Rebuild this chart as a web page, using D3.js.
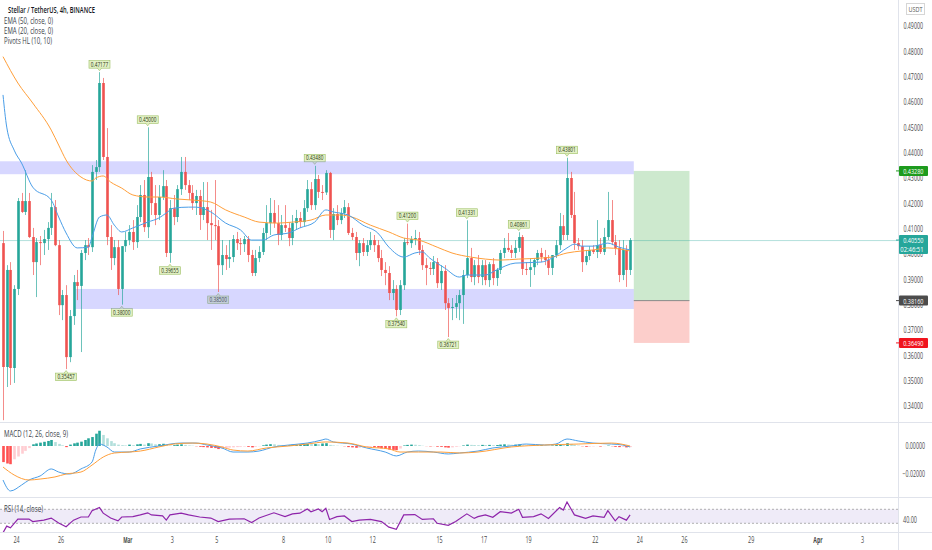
<!DOCTYPE html>
<html>
<head>
<meta charset="utf-8">
<script src="https://cdn.jsdelivr.net/npm/d3@7"></script>
<style>
  body { margin: 0; background: #fff; }
  svg { display: block; }
  text { font-family: "Open Sans", "Noto Sans", sans-serif; }
</style>
</head>
<body>
<svg width="932" height="550"></svg>
<script>
// 4h candles, first one opens Feb 23 10:00, 170 candles
var opens = [.4043,.3554,.3937,.3550,.3862,.4209,.4166,.4209,.4067,.3968,.4047,.4043,.4059,.4103,.4185,.4035,.3798,.3838,.3593,.3755,
  .3889,.3874,.4004,.4035,.4027,.4324,.4343,.4675,.4383,.4067,.3984,.4027,.3862,.4031,.4055,.4087,.4047,.4146,.4233,.4106,
  .4304,.4201,.4154,.4225,.4268,.4004,.4181,.4146,.4256,.4324,.4272,.4241,.4201,.4229,.4154,.4185,.4122,.4114,.4110,.3956,
  .3996,.3980,.3988,.4059,.4043,.4039,.4059,.3996,.3925,.3984,.4008,.4083,.4122,.4162,.4122,.4075,.4114,.4103,.4063,.4122,
  .4142,.4126,.4181,.4256,.4193,.4296,.4245,.4243,.4320,.4095,.4158,.4134,.4162,.4185,.4083,.4067,.4004,.4043,.4008,.4035,
  .4055,.4035,.3984,.3937,.3925,.3846,.3862,.3779,.3877,.4047,.4043,.4059,.4063,.4016,.3956,.3945,.3941,.3968,.3885,.3933,
  .3806,.3787,.3791,.3806,.3838,.3917,.3984,.3909,.3956,.3909,.3956,.3897,.3960,.3905,.3937,.4004,.4024,.4016,.4004,.4024,
  .4067,.3941,.3937,.3948,.3976,.4004,.3988,.3976,.3945,.3996,.4035,.4110,.4075,.4300,.4154,.4043,.4031,.3968,.3992,.4016,
  .4008,.4035,.4008,.4067,.4134,.4047,.4024,.3917,.4016,.3937];
var highs = [.4091,.3956,.3968,.3877,.4221,.4241,.4331,.4241,.4103,.4063,.4071,.4095,.4126,.4241,.4213,.4055,.3858,.3877,.3779,.3917,
  .3937,.4016,.4055,.4063,.4351,.4371,.47177,.4695,.4497,.4114,.4055,.4055,.4031,.4087,.4114,.4134,.4193,.4272,.4292,.4500,
  .4324,.4272,.4272,.4331,.4292,.4213,.4233,.4272,.4383,.4383,.4292,.4272,.4253,.4253,.4284,.4284,.4174,.4292,.4134,.4055,
  .4035,.4055,.4075,.4087,.4063,.4071,.4071,.4016,.4016,.4031,.4103,.4193,.4221,.4213,.4193,.4154,.4193,.4126,.4154,.4174,
  .4166,.4213,.4292,.4284,.4348,.4312,.4272,.4331,.4324,.4181,.4193,.4181,.4213,.4201,.4103,.4087,.4055,.4063,.4055,.4087,
  .4075,.4055,.4016,.3968,.3952,.3897,.3877,.3897,.4063,.4120,.4071,.4095,.4087,.4035,.3984,.3968,.3992,.3984,.3956,.3956,
  .3826,.3826,.3838,.3858,.3937,.41331,.4024,.3976,.3996,.3976,.3976,.3968,.3984,.3945,.4016,.4063,.4083,.4035,.4055,.40861,
  .4075,.3968,.3984,.3984,.4016,.4024,.4016,.3996,.3996,.4055,.4162,.4154,.43801,.4324,.4245,.4063,.4055,.4016,.4031,.4035,
  .4134,.4063,.4103,.4245,.4213,.4075,.4055,.4055,.4035,.4063];
var lows = [.3344,.3475,.3483,.3491,.3838,.4162,.4154,.4063,.3917,.3830,.3956,.3996,.4016,.4075,.4031,.3759,.3739,.35457,.3573,.3720,
  .3818,.3613,.3976,.3996,.4008,.4292,.4324,.4371,.4035,.3937,.3956,.3838,.3800,.4008,.4035,.4016,.4024,.4126,.4087,.4063,
  .4154,.4114,.4134,.4213,.3988,.39655,.4114,.4126,.4233,.4253,.4213,.4174,.4154,.4095,.4134,.4055,.4016,.4055,.3850,.3917,
  .3937,.3945,.3968,.4016,.3996,.4008,.3968,.3913,.3913,.3968,.3996,.4055,.4075,.4103,.4035,.4055,.4087,.4031,.4035,.4095,
  .4103,.4110,.4166,.4174,.4174,.4221,.4213,.4233,.4063,.4055,.4114,.4118,.4142,.4075,.4055,.3976,.3952,.3992,.3992,.4016,
  .4008,.3968,.3913,.3877,.3818,.3818,.3754,.3759,.3858,.4035,.4024,.4035,.3996,.3937,.3877,.3917,.3917,.3866,.3858,.3779,
  .36721,.3739,.3747,.3739,.3724,.3905,.3889,.3877,.3885,.3877,.3877,.3870,.3877,.3874,.3921,.3984,.4008,.3984,.3984,.4008,
  .3917,.3917,.3870,.3917,.3956,.3968,.3956,.3917,.3917,.3984,.4016,.4055,.4055,.4142,.4016,.4016,.3929,.3956,.3976,.4000,
  .3984,.4000,.3996,.4055,.4035,.3996,.3889,.3897,.3870,.3917];
var closes = [.3554,.3937,.3550,.3862,.4209,.4166,.4209,.4067,.3968,.4047,.4043,.4059,.4103,.4185,.4035,.3798,.3838,.3593,.3755,.3889,
  .3874,.4004,.4035,.4027,.4324,.4343,.4675,.4383,.4067,.3984,.4027,.3862,.4031,.4055,.4087,.4047,.4146,.4233,.4106,.4304,
  .4201,.4154,.4225,.4268,.4004,.4181,.4146,.4256,.4324,.4272,.4241,.4201,.4229,.4154,.4185,.4122,.4114,.4110,.3956,.3996,
  .3980,.3988,.4059,.4043,.4039,.4059,.3996,.3925,.3984,.4008,.4083,.4122,.4162,.4122,.4075,.4114,.4103,.4063,.4122,.4142,
  .4126,.4181,.4256,.4193,.4296,.4245,.4243,.4320,.4095,.4158,.4134,.4162,.4185,.4083,.4067,.4004,.4043,.4008,.4035,.4055,
  .4035,.3984,.3937,.3925,.3846,.3862,.3779,.3877,.4047,.4043,.4059,.4063,.4016,.3956,.3945,.3941,.3968,.3885,.3933,.3806,
  .3787,.3791,.3806,.3838,.3917,.3984,.3909,.3956,.3909,.3956,.3897,.3960,.3905,.3937,.4004,.4024,.4016,.4004,.4024,.4067,
  .3941,.3937,.3948,.3976,.4004,.3988,.3976,.3945,.3996,.4035,.4110,.4075,.4300,.4154,.4043,.4031,.3968,.3992,.4016,.4008,
  .4035,.4008,.4067,.4134,.4047,.4024,.3917,.4016,.3937,.4055];

// EMA lines (candle index, value)
var ema50Idx = [0,4,8,13,15,17,21,24,25,27,29,32,35,39,42,47,51,56,60,65,69,74,78,83,87,91,94,99,104,108,112,117,121,126,130,134,139,145,148,152,156,159,163,166,169];
var ema50Val = [.4779,.4675,.4596,.4489,.4430,.4371,.4304,.4288,.4300,.4308,.4284,.4260,.4233,.4225,.4225,.4217,.4213,.4205,.4174,.4146,.4126,.4122,.4126,.4134,.4154,.4154,.4146,.4114,.4087,.4063,.4055,.4027,.4004,.3988,.3980,.3976,.3980,.3984,.3988,.4004,.4012,.4016,.4024,.4020,.4012];
var ema20Idx = [0,1,3,5,8,13,15,17,20,23,24,26,28,30,32,35,39,42,44,46,50,52,56,60,64,67,70,73,77,80,84,87,89,93,97,101,104,108,111,113,115,119,123,125,130,133,138,145,148,152,154,156,159,163,166,169];
var ema20Val = [.4628,.4501,.4410,.4359,.4264,.4213,.4146,.4083,.4024,.4027,.4067,.4146,.4154,.4114,.4087,.4103,.4126,.4142,.4162,.4181,.4185,.4185,.4166,.4122,.4095,.4055,.4055,.4075,.4083,.4103,.4126,.4174,.4166,.4154,.4114,.4083,.4027,.3988,.4004,.4008,.3984,.3945,.3909,.3917,.3917,.3937,.3964,.3968,.3984,.4024,.4039,.4031,.4031,.4043,.4027,.4016];

// pivots
var pivotHighIdx = [26,39,84,109,125,139,152];
var pivotHighVal = [0.47177,0.45000,0.43480,0.41200,0.41331,0.40861,0.43801];
var pivotLowIdx = [17,32,45,58,106,120];
var pivotLowVal = [0.35457,0.38000,0.39655,0.38500,0.37540,0.36721];

// MACD (12, 26, close, 9)
var macdHist = [-0.0115,-0.0125,-0.0130,-0.0095,-0.0075,-0.0055,-0.0035,-0.0015,0.0012,0.0018,
  0.0024,0.0030,0.0036,0.0043,0.0028,0.0015,0.0005,-0.0008,0.0010,0.0019,
  0.0024,0.0031,0.0043,0.0055,0.0064,0.0088,0.0109,0.0079,0.0055,0.0035,
  0.0020,0.0010,0.0006,0.0004,0.0010,0.0006,0.0012,0.0015,0.0010,0.0020,
  0.0018,0.0012,0.0013,0.0016,0.0008,0.0004,0.0006,0.0010,0.0012,0.0008,
  0.0004,0.0002,-0.0002,-0.0006,-0.0008,-0.0010,-0.0014,-0.0015,-0.0022,-0.0020,
  -0.0016,-0.0012,-0.0010,-0.0008,-0.0006,-0.0004,-0.0006,-0.0010,-0.0006,-0.0002,
  0.0005,0.0010,0.0013,0.0012,0.0008,0.0006,0.0005,0.0006,0.0009,0.0010,
  0.0012,0.0013,0.0016,0.0014,0.0015,0.0013,0.0018,0.0020,0.0008,0.0004,
  0.0002,0.0001,-0.0002,-0.0008,-0.0010,-0.0013,-0.0012,-0.0010,-0.0008,-0.0006,
  -0.0008,-0.0012,-0.0016,-0.0020,-0.0026,-0.0028,-0.0030,-0.0018,0.0004,0.0008,
  0.0010,0.0009,0.0006,0.0002,-0.0001,-0.0003,-0.0002,-0.0005,-0.0006,-0.0010,
  -0.0012,-0.0010,-0.0006,-0.0002,0.0004,0.0010,0.0008,0.0007,0.0006,0.0008,
  0.0007,0.0008,0.0006,0.0007,0.0010,0.0012,0.0011,0.0009,0.0010,0.0012,
  0.0005,0.0002,0.0001,0.0002,0.0004,0.0005,0.0003,0.0002,0.0004,0.0007,
  0.0012,0.0010,0.0020,0.0015,0.0008,0.0003,-0.0002,-0.0006,-0.0005,-0.0003,
  -0.0001,-0.0004,-0.0001,0.0003,-0.0002,-0.0006,-0.0008,-0.0007,-0.0010,-0.0008];
var macdIdx = [0,2,5,7,10,13,15,18,21,24,25,26,28,30,34,37,42,48,52,55,59,62,66,69,73,77,82,86,87,89,94,98,103,106,109,112,116,120,123,128,132,137,141,146,149,152,155,159,164,167,169];
var macdVal = [-.0243,-.0321,-.0279,-.0243,-.0214,-.0164,-.0186,-.0200,-.0164,-.0114,-.0029,.0014,-.0007,-.0043,-.0043,-.0021,0,.0021,.0021,.0007,-.0014,-.0043,-.0043,-.0036,-.0007,.0007,.0021,.0043,.0050,.0029,.0014,-.0014,-.0043,-.0071,-.0043,-.0036,-.0043,-.0057,-.0050,-.0036,-.0014,0,.0014,.0007,.0014,.0050,.0036,.0021,.0014,.0007,-.0007];
var signalIdx = [0,3,7,10,14,17,21,24,27,30,34,37,42,46,51,55,59,62,66,71,77,82,87,93,98,104,107,112,118,123,128,137,146,155,164,169];
var signalVal = [-.0150,-.0207,-.0243,-.0236,-.0221,-.0200,-.0186,-.0136,-.0079,-.0050,-.0043,-.0036,-.0007,.0014,.0021,.0014,-.0007,-.0029,-.0036,-.0014,0,.0014,.0029,.0021,-.0007,-.0021,-.0043,-.0043,-.0043,-.0050,-.0043,-.0007,.0007,.0014,.0021,0];

// RSI (14, close)
var rsiIdx = [0,1,2,4,7,8,11,13,15,17,19,21,23,24,26,27,29,31,32,35,37,39,40,43,44,45,48,50,53,56,58,61,65,67,69,73,76,78,80,82,83,85,86,87,88,90,92,94,96,99,102,104,106,108,111,113,116,117,120,122,125,127,128,130,132,134,137,139,140,143,145,147,150,151,152,154,157,159,162,163,165,166,168,169];
var rsiVal = [3,22,17,42,42,35,39,45,31,20,39,48,48,66,75,59,45,37,48,49,54,60,54,51,39,54,59,54,48,45,35,42,43,32,45,60,49,57,59,71,63,71,63,73,41,49,51,35,39,41,35,19,13,54,55,41,43,30,24,35,57,44,49,54,47,63,59,70,47,49,57,44,75,68,91,54,44,51,47,66,37,49,39,54];

// price axis and time axis
var priceTicks = [0.49,0.48,0.47,0.46,0.45,0.44,0.43,0.42,0.41,0.40,0.39,0.38,0.37,0.36,0.35,0.34];
var macdTicks = [0, -0.02];
var rsiTicks = [40];
var dayTicks = [[2021,1,24],[2021,1,26],[2021,2,1],[2021,2,3],[2021,2,5],[2021,2,8],[2021,2,10],[2021,2,12],[2021,2,15],
  [2021,2,17],[2021,2,19],[2021,2,22],[2021,2,24],[2021,2,26],[2021,2,29],[2021,3,1],[2021,3,3]];
var dayLabels = ["24","26","Mar","3","5","8","10","12","15","17","19","22","24","26","29","Apr","3"];

// support / resistance zones and long position
var zoneHigh = [0.4315, 0.4366];
var zoneLow = [0.3783, 0.3862];
var lowZoneStart = [2021,1,26,16];
var zoneEnd = [2021,2,23,18];
var positionEnd = [2021,2,26,6];
var entryPrice = 0.3816, targetPrice = 0.4328, stopPrice = 0.3649;
var lastPrice = 0.4055;

var svg = d3.select("svg");
var W = 898; // plot width, axis on the right

var utc = function (a) { return new Date(Date.UTC(a[0], a[1], a[2], a[3] || 0)); };
var candleTime = function (i) { return new Date(Date.UTC(2021, 1, 23, 10) + i * 4 * 3600e3); };

var x = d3.scaleUtc().domain([utc([2021,1,24]), utc([2021,3,3])]).range([16, 862]);
var y = d3.scaleLinear().domain([0.34, 0.49]).range([406, 26]);
var yM = d3.scaleLinear().domain([-0.02, 0]).range([474, 446]);
var yR = d3.scaleLinear().domain([30, 70]).range([523.3, 509.3]);
var cx = function (i) { return x(candleTime(i)); };

var teal = "#26a69a", red = "#ef5350";

// clip paths for the three panes
var defs = svg.append("defs");
defs.append("clipPath").attr("id", "cMain").append("rect").attr("x", 0).attr("y", 0).attr("width", W).attr("height", 422);
defs.append("clipPath").attr("id", "cMacd").append("rect").attr("x", 0).attr("y", 423).attr("width", W).attr("height", 74);
defs.append("clipPath").attr("id", "cRsi").append("rect").attr("x", 0).attr("y", 498).attr("width", W).attr("height", 34);

// small helper for the narrow TradingView style text
function txt(g, x0, y0, s, size, w, color, weight, anchor) {
  return g.append("text").attr("x", x0).attr("y", y0).text(s)
    .attr("font-size", size).attr("fill", color || "#131722")
    .attr("font-weight", weight || 400)
    .attr("text-anchor", anchor || "start")
    .attr("textLength", w).attr("lengthAdjust", "spacingAndGlyphs");
}

var main = svg.append("g").attr("clip-path", "url(#cMain)");

// pivot labels (drawn below the zones)
var fmt5 = d3.format(".5f");
function pivotLabel(i, v, isHigh) {
  var px = cx(i), py = y(v);
  var bw = 21, bh = 7.5;
  var top = isHigh ? py - 4 - bh : py + 4;
  var tip = isHigh ? "M" + (px - 2) + "," + (top + bh) + "L" + px + "," + (py - 1.5) + "L" + (px + 2) + "," + (top + bh)
                   : "M" + (px - 2) + "," + top + "L" + px + "," + (py + 1.5) + "L" + (px + 2) + "," + top;
  main.append("rect").attr("x", px - bw / 2).attr("y", top).attr("width", bw).attr("height", bh)
    .attr("fill", "#e3f1c6").attr("stroke", "#9cbf62").attr("stroke-width", 0.6);
  main.append("path").attr("d", tip).attr("fill", "#e3f1c6").attr("stroke", "#9cbf62").attr("stroke-width", 0.6);
  txt(main, px - 8.7, top + 6, fmt5(v), 6.5, 17.4, "#2d3a14");
}
pivotHighIdx.forEach(function (d, k) { pivotLabel(d, pivotHighVal[k], true); });
pivotLowIdx.forEach(function (d, k) { pivotLabel(d, pivotLowVal[k], false); });

// zones
main.append("rect").attr("x", 0).attr("width", x(utc(zoneEnd)))
  .attr("y", y(zoneHigh[1])).attr("height", y(zoneHigh[0]) - y(zoneHigh[1]))
  .attr("fill", "#7b7bff").attr("opacity", 0.3);
main.append("rect").attr("x", x(utc(lowZoneStart))).attr("width", x(utc(zoneEnd)) - x(utc(lowZoneStart)))
  .attr("y", y(zoneLow[1])).attr("height", y(zoneLow[0]) - y(zoneLow[1]))
  .attr("fill", "#7b7bff").attr("opacity", 0.3);

// long position box
var p0 = x(utc(zoneEnd)), p1 = x(utc(positionEnd));
main.append("rect").attr("x", p0).attr("width", p1 - p0).attr("y", y(targetPrice)).attr("height", y(entryPrice) - y(targetPrice))
  .attr("fill", "#4caf50").attr("opacity", 0.28);
main.append("rect").attr("x", p0).attr("width", p1 - p0).attr("y", y(entryPrice)).attr("height", y(stopPrice) - y(entryPrice))
  .attr("fill", "#f44336").attr("opacity", 0.26);
main.append("line").attr("x1", p0).attr("x2", p1).attr("y1", y(entryPrice)).attr("y2", y(entryPrice))
  .attr("stroke", "#8a8a8a").attr("stroke-width", 1);

// last price line
main.append("line").attr("x1", 0).attr("x2", W).attr("y1", y(lastPrice) + 0.5).attr("y2", y(lastPrice) + 0.5)
  .attr("stroke", teal).attr("stroke-opacity", 0.35).attr("stroke-width", 1);

// candles
var idx = d3.range(closes.length);
var cg = main.append("g");
cg.selectAll("line.wick").data(idx).join("line")
  .attr("x1", function (i) { return Math.round(cx(i)) + 0.5; })
  .attr("x2", function (i) { return Math.round(cx(i)) + 0.5; })
  .attr("y1", function (i) { return y(highs[i]); })
  .attr("y2", function (i) { return y(lows[i]); })
  .attr("stroke", function (i) { return closes[i] >= opens[i] ? teal : red; })
  .attr("stroke-opacity", 0.75).attr("stroke-width", 0.9);
cg.selectAll("rect.body").data(idx).join("rect")
  .attr("x", function (i) { return Math.round(cx(i)) + 0.5 - 1.3; })
  .attr("width", 2.6)
  .attr("y", function (i) { return y(Math.max(opens[i], closes[i])); })
  .attr("height", function (i) { return Math.max(1, Math.abs(y(opens[i]) - y(closes[i]))); })
  .attr("fill", function (i) { return closes[i] >= opens[i] ? teal : red; });

// EMAs
var lineMain = function (ix, vals) {
  return d3.line().curve(d3.curveMonotoneX)
    .x(function (d, k) { return cx(ix[k]); })
    .y(function (d) { return y(d); })(vals);
};
main.append("path").attr("d", lineMain(ema50Idx, ema50Val)).attr("fill", "none").attr("stroke", "#ff9f3a").attr("stroke-width", 1);
main.append("path").attr("d", lineMain(ema20Idx, ema20Val)).attr("fill", "none").attr("stroke", "#4a9ee8").attr("stroke-width", 1);

// MACD pane
var mg = svg.append("g").attr("clip-path", "url(#cMacd)");
mg.selectAll("rect").data(idx).join("rect")
  .attr("x", function (i) { return Math.round(cx(i)) + 0.5 - 1.3; })
  .attr("width", 2.6)
  .attr("y", function (i) { return Math.min(yM(0), yM(macdHist[i])); })
  .attr("height", function (i) { return Math.abs(yM(macdHist[i]) - yM(0)); })
  .attr("fill", function (i) {
    var v = macdHist[i], p = i > 0 ? macdHist[i - 1] : v + 1;
    if (v >= 0) return v > p ? "#26a69a" : "#b2dfdb";
    return v < p ? "#ff5252" : "#ffcdd2";
  });
var lineM = function (ix, vals) {
  return d3.line().curve(d3.curveMonotoneX)
    .x(function (d, k) { return cx(ix[k]); })
    .y(function (d) { return yM(d); })(vals);
};
mg.append("path").attr("d", lineM(macdIdx, macdVal)).attr("fill", "none").attr("stroke", "#4a9ee8").attr("stroke-width", 1);
mg.append("path").attr("d", lineM(signalIdx, signalVal)).attr("fill", "none").attr("stroke", "#ff9f3a").attr("stroke-width", 1);

// RSI pane
var rg = svg.append("g").attr("clip-path", "url(#cRsi)");
rg.append("rect").attr("x", 0).attr("width", W).attr("y", yR(70)).attr("height", yR(30) - yR(70))
  .attr("fill", "#7e57c2").attr("opacity", 0.12);
[30, 70].forEach(function (v) {
  rg.append("line").attr("x1", 0).attr("x2", W).attr("y1", yR(v)).attr("y2", yR(v))
    .attr("stroke", "#9e9e9e").attr("stroke-dasharray", "2,2").attr("stroke-width", 0.8);
});
rg.append("path").attr("d", d3.line().curve(d3.curveLinear)
    .x(function (d, k) { return cx(rsiIdx[k]); })
    .y(function (d) { return yR(d); })(rsiVal))
  .attr("fill", "none").attr("stroke", "#8e24aa").attr("stroke-width", 1.2);

// pane borders
svg.append("line").attr("x1", 0).attr("x2", 932).attr("y1", 422.5).attr("y2", 422.5).attr("stroke", "#e0e3eb");
svg.append("line").attr("x1", 0).attr("x2", 932).attr("y1", 497.5).attr("y2", 497.5).attr("stroke", "#e0e3eb");
svg.append("line").attr("x1", 0).attr("x2", 932).attr("y1", 532.5).attr("y2", 532.5).attr("stroke", "#e0e3eb");
svg.append("line").attr("x1", W + 0.5).attr("x2", W + 0.5).attr("y1", 0).attr("y2", 550).attr("stroke", "#e0e3eb");

// right axes, labels right-aligned so they stay inside the frame
function rightAxis(scale, ticks, fmt, endX) {
  var g = svg.append("g").attr("transform", "translate(" + W + ",0)")
    .call(d3.axisRight(scale).tickValues(ticks).tickFormat(fmt).tickSize(0));
  g.select(".domain").remove();
  g.selectAll("text").attr("x", endX - W).attr("text-anchor", "end")
    .attr("fill", "#4a4a4a").attr("font-size", 8.5)
    .attr("font-family", "Open Sans, sans-serif")
    .attr("textLength", function (d) { return fmt(d).length * 2.8; })
    .attr("lengthAdjust", "spacingAndGlyphs");
  return g;
}
rightAxis(y, priceTicks, d3.format(".5f"), 923);
rightAxis(yM, macdTicks, d3.format(".5f"), 925);
rightAxis(yR, rsiTicks, d3.format(".2f"), 917);

// price tags on the axis
function tag(v, fill, lines) {
  var py = y(v);
  var h = lines.length > 1 ? 19 : 10;
  svg.append("line").attr("x1", W - 2).attr("x2", W + 1).attr("y1", py).attr("y2", py).attr("stroke", fill);
  svg.append("rect").attr("x", W + 1).attr("y", py - 5).attr("width", 29).attr("height", h).attr("fill", fill).attr("rx", 1);
  lines.forEach(function (s, k) {
    txt(svg, W + 25.5, py + 3 + k * 8.5, s, 8, s.length * 2.9, "#fff", 400, "end");
  });
}
tag(targetPrice, "#1e9b1e", [fmt5(targetPrice)]);
tag(lastPrice, teal, [fmt5(lastPrice), "02:46:51"]);
tag(entryPrice, "#4c4c4c", [fmt5(entryPrice)]);
tag(stopPrice, "#f0141e", [fmt5(stopPrice)]);

// currency box
svg.append("rect").attr("x", 906.5).attr("y", 3.5).attr("width", 18).attr("height", 11)
  .attr("fill", "#fff").attr("stroke", "#d6d6d6");
txt(svg, 922.5, 11.8, "USDT", 7, 14, "#555", 400, "end");

// time axis
var xa = svg.append("g").attr("transform", "translate(0,532)")
  .call(d3.axisBottom(x).tickValues(dayTicks.map(utc)).tickFormat(function (d, i) { return dayLabels[i]; }).tickSize(0));
xa.select(".domain").remove();
xa.selectAll("text").attr("y", 5).attr("fill", "#4a4a4a").attr("font-size", 8.5)
  .attr("font-family", "Open Sans, sans-serif")
  .attr("font-weight", function (d, i) { return dayLabels[i].length === 3 ? 700 : 400; })
  .attr("textLength", function (d, i) { return dayLabels[i].length * 3.1; })
  .attr("lengthAdjust", "spacingAndGlyphs");

// legends
txt(svg, 8, 13, "Stellar / TetherUS, 4h, BINANCE", 8.5, 87, "#131722", 600);
txt(svg, 4, 23.7, "EMA (50, close, 0)", 8.5, 49, "#3c3f4a");
txt(svg, 4, 34, "EMA (20, close, 0)", 8.5, 49, "#3c3f4a");
txt(svg, 4, 44.3, "Pivots HL (10, 10)", 8.5, 48, "#3c3f4a");
txt(svg, 4, 437, "MACD (12, 26, close, 9)", 8.5, 64, "#3c3f4a");
txt(svg, 4, 512.3, "RSI (14, close)", 8.5, 39, "#3c3f4a");
</script>
</body>
</html>
